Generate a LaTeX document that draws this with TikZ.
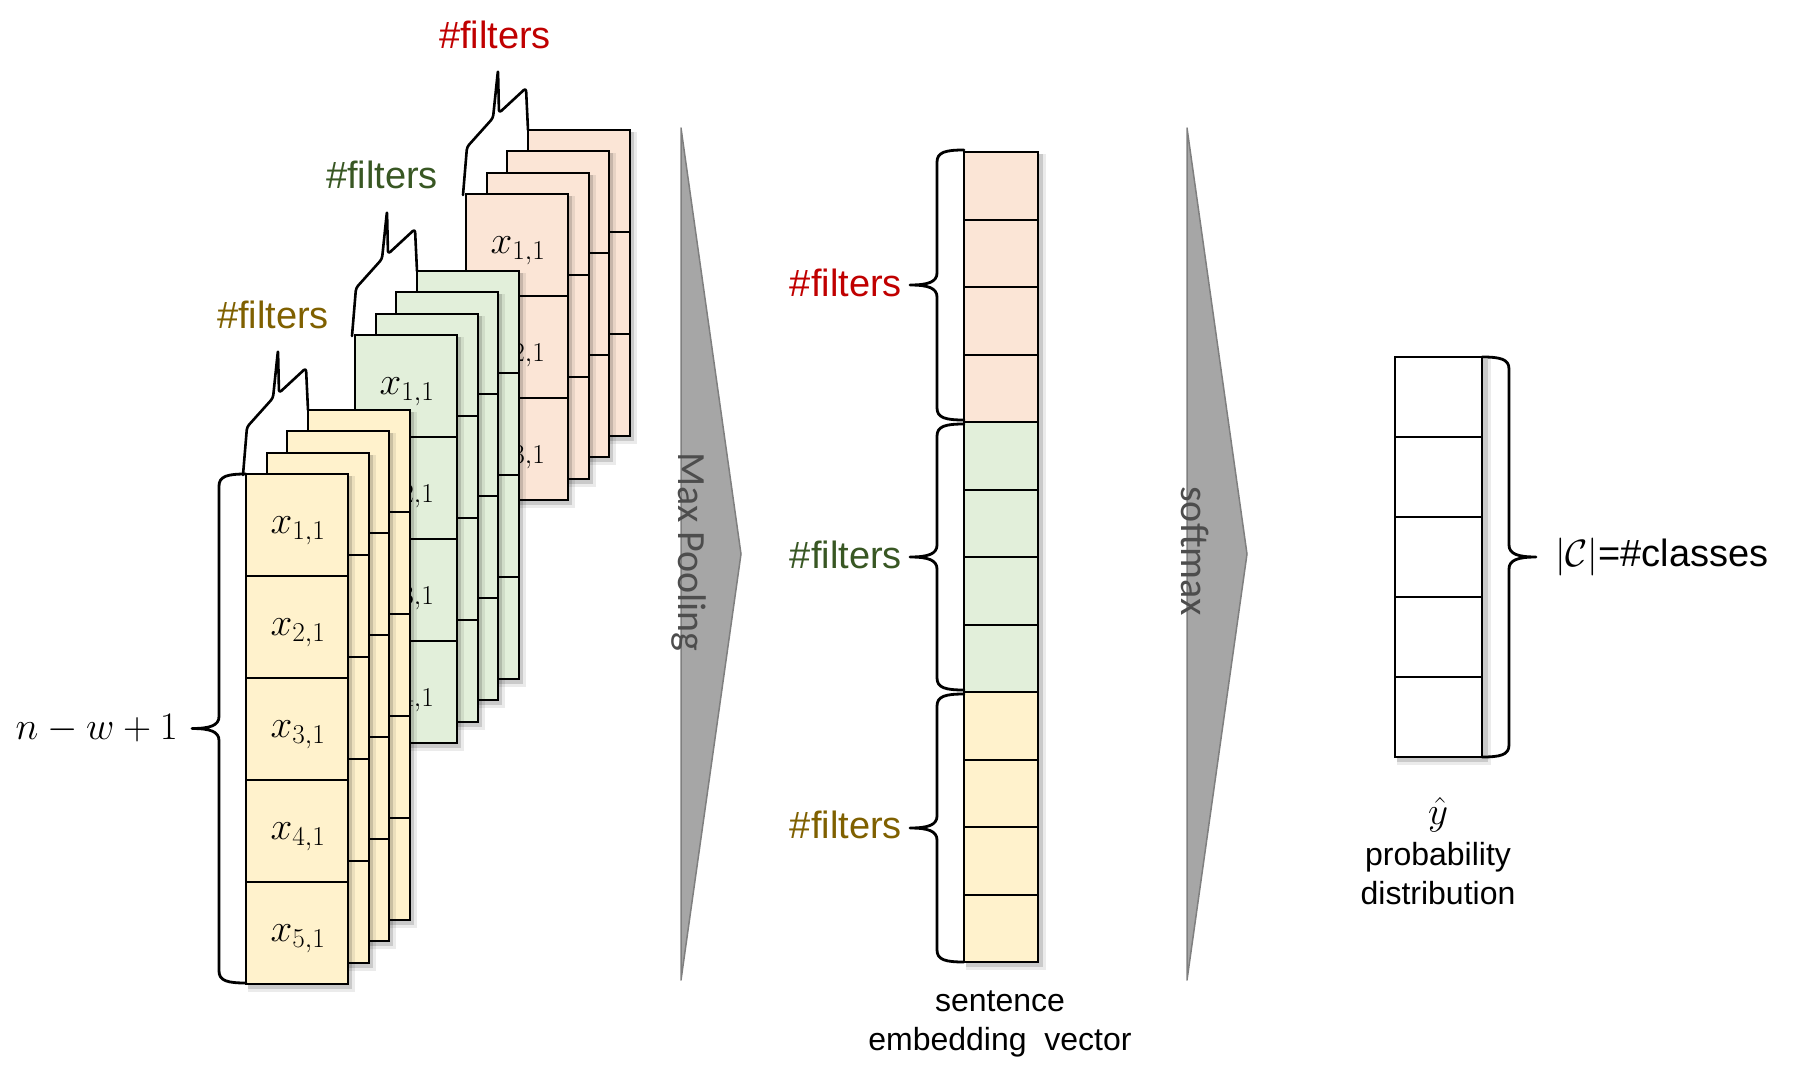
\RequirePackage{fix-cm}
\documentclass[tikz,border=0pt]{standalone}
\usepackage[no-math]{fontspec}
\setmainfont{Liberation Sans}
\newfontfamily\calibfont{Carlito}
\usetikzlibrary{calc}
\definecolor{yfill}{HTML}{FFF2CC}
\definecolor{gfill}{HTML}{E2EFDA}
\definecolor{rfill}{HTML}{FBE5D6}
\definecolor{ytext}{HTML}{7F6000}
\definecolor{gtext}{HTML}{385723}
\definecolor{rtext}{HTML}{C00000}
\definecolor{arrfill}{HTML}{A6A6A6}
\definecolor{arrline}{HTML}{7F7F7F}
\definecolor{arrtext}{HTML}{4D4D4D}

\tikzset{
  sheetbox/.style={draw=black, line width=2.2pt, minimum width=102pt, inner sep=0pt, outer sep=0pt},
  rowline/.style={line width=2.2pt},
  shadowA/.style={fill=black, opacity=0.08},
  shadowB/.style={fill=black, opacity=0.14},
  bracestyle/.style={line width=2.8pt, line join=round, line cap=round},
  topbrace/.style={line width=2.6pt, line join=round, line cap=round, rounded corners=3pt},
  xlabel/.style={font=\fontsize{39}{41}\selectfont, inner sep=0pt},
  filtlabel/.style={font=\fontsize{38}{40}\selectfont, inner sep=0pt},
  cellbox/.style={draw=black, line width=2pt, minimum width=74pt, minimum height=67.5pt, inner sep=0pt, outer sep=0pt},
  ycell/.style={draw=black, line width=1.6pt, fill=white, minimum width=87pt, minimum height=80pt, inner sep=0pt, outer sep=0pt},
  arrowshape/.style={fill=arrfill, draw=arrline, line width=1.5pt, line join=round},
  arrowtext/.style={rotate=-90, text=arrtext, font=\calibfont\fontsize{40}{42}\selectfont, inner sep=0pt},
  smalltext/.style={font=\fontsize{32}{39}\selectfont, align=center, inner sep=0pt},
}

% one feature-map sheet: name, x, y (top-left), rows, fill, index (0 = front, gets labels)
\newcommand\mysheet[6]{%
  \pgfmathsetmacro\shh{102*#4}%
  \pgfmathtruncatemacro\myrows{#4-1}%
  \fill[shadowA] (#2+2,#3+2) rectangle (#2+109,#3+\shh+8);
  \fill[shadowB] (#2+2,#3+2) rectangle (#2+106,#3+\shh+5);
  \node[sheetbox, fill=#5, minimum height=\shh pt] (#1) at (#2+51,#3+\shh/2) {};
  \foreach \r in {1,...,\myrows}{\draw[rowline] (#2,#3+102*\r) -- (#2+102,#3+102*\r);}
  \ifnum#6=0
    \foreach \r in {1,...,#4}{\node[xlabel] at (#2+52,#3+102*\r-45) {$x_{\r,1}$};}
  \fi
}

% stack of four sheets: prefix, x0, y0 (front top-left), rows, fill
\newcommand\mystack[5]{%
  \foreach \k in {3,2,1,0}{%
    \pgfmathsetmacro\sx{#2+20.67*\k}%
    \pgfmathsetmacro\sy{#3-21.33*\k}%
    \mysheet{#1\k}{\sx}{\sy}{#4}{#5}{\k}%
  }
  \draw[topbrace] (#2-3,#3+1) -- (#2+1,#3-47) -- (#2+27,#3-76) -- (#2+32,#3-124)
     -- (#2+33,#3-81) -- (#2+60,#3-106) -- (#2+62,#3-64);
}

% curly brace: x of ends, y top, y bottom, side (1 = tip to the left, -1 = tip to the right)
\newcommand\mybrace[4]{%
  \pgfmathsetmacro\bm{(#3-#2)/2}%
  \pgfmathsetmacro\bl{#3-#2}%
  \draw[bracestyle, shift={(#1,#2)}, xscale=#4] (0,0) .. controls (-18,0) and (-27,2) .. (-27,12)
    -- (-27,\bm-12) .. controls (-27,\bm-3) and (-36,\bm) .. (-54,\bm)
    .. controls (-36,\bm) and (-27,\bm+3) .. (-27,\bm+12)
    -- (-27,\bl-12) .. controls (-27,\bl-2) and (-18,\bl) .. (0,\bl);
}

\begin{document}
\begin{tikzpicture}[x=1pt, y=-1pt]
\useasboundingbox (0,0) rectangle (1795,1081);

% ---- stacks of feature maps (back to front)
\mystack{r}{466}{194}{3}{rfill}
\mystack{g}{355}{335}{4}{gfill}
\mystack{y}{246}{474}{5}{yfill}

\mybrace{246}{474}{983}{1}
\node[xlabel, anchor=east] (nw) at (178,729) {$n-w+1$};

\node[filtlabel, text=ytext] (fy) at (273,315) {\#filters};
\node[filtlabel, text=gtext] (fg) at (382,175) {\#filters};
\node[filtlabel, text=rtext] (fr) at (495,35) {\#filters};

% ---- max pooling arrow
\draw[arrowshape] (681,128) -- (741,554) -- (681,980) -- cycle;
\node[arrowtext] (mp) at (689,552) {Max Pooling};

% ---- sentence embedding vector
\fill[shadowA] (966,154) rectangle (1046,970);
\fill[shadowB] (966,154) rectangle (1043,967);
\foreach \i/\c in {0/rfill,1/rfill,2/rfill,3/rfill,4/gfill,5/gfill,6/gfill,7/gfill,8/yfill,9/yfill,10/yfill,11/yfill}{
  \node[cellbox, fill=\c] (v\i) at (1001,152+67.5*\i+33.75) {};
}
\mybrace{964}{150}{420}{1}
\mybrace{964}{424}{690}{1}
\mybrace{964}{694}{962}{1}
\node[filtlabel, text=rtext, anchor=east] (er) at (902,283) {\#filters};
\node[filtlabel, text=gtext, anchor=east] (eg) at (902,555) {\#filters};
\node[filtlabel, text=ytext, anchor=east] (ey) at (902,825) {\#filters};
\node[smalltext] (sev) at (1000,1024) {sentence\\embedding\ \ vector};

% ---- softmax arrow
\draw[arrowshape] (1187,128) -- (1247,554) -- (1187,980) -- cycle;
\node[arrowtext] (sm) at (1195,551) {softmax};

% ---- output distribution
\fill[shadowA] (1397,359) rectangle (1491,765);
\fill[shadowB] (1397,359) rectangle (1488,762);
\foreach \i in {0,...,4}{
  \node[ycell] (c\i) at (1438.5,357+80*\i+40) {};
}
\mybrace{1482}{357}{757}{-1}
\node[filtlabel, anchor=west] (cls) at (1555,557) {$|\mathcal{C}|$=\#classes};
\node[xlabel] (yhat) at (1438,815) {$\hat{y}$};
\node[smalltext] (prob) at (1438,874) {probability\\distribution};
\end{tikzpicture}
\end{document}
